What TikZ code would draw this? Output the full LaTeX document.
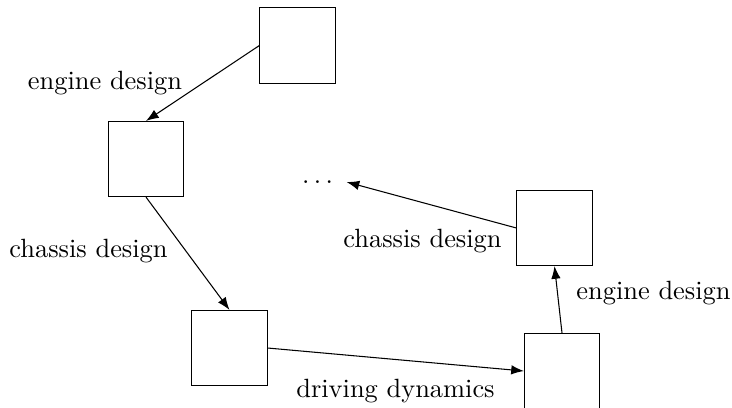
\documentclass[tikz,border=0pt]{standalone}
\usetikzlibrary{arrows.meta}
\begin{document}
\begin{tikzpicture}[
  x=0.3788pt, y=-0.3788pt,
  stage/.style={draw, minimum size=1cm, inner sep=0pt},
  flow/.style={-{Latex}},
  lbl/.style={anchor=base, inner sep=0pt}
]
\useasboundingbox (0,0) rectangle (732,407);

% design stages
\node[stage] (b1) at (297.5,45.5) {};
\node[stage] (b2) at (146,159) {};
\node[stage] (b3) at (229.5,348) {};
\node[stage] (b4) at (562,371) {};
\node[stage] (b5) at (554.5,228) {};
\node[inner xsep=5pt] (dots) at (317.5,182) {$\ldots$};

% transitions between stages
\draw[flow] (b1.west) -- (b2.north);
\draw[flow] (b2.south) -- (b3.north);
\draw[flow] (b3.east) -- (b4.west);
\draw[flow] (b4.north) -- (b5.south);
\draw[flow] (b5.west) -- (dots.east);

% transition labels
\node[lbl] (l1) at (105,89) {engine design};
\node[lbl] (l2) at (88.5,257) {chassis design};
\node[lbl] (l3) at (395.5,397) {driving dynamics};
\node[lbl] (l4) at (653.5,299) {engine design};
\node[lbl] (l5) at (422.5,247) {chassis design};
\end{tikzpicture}
\end{document}
